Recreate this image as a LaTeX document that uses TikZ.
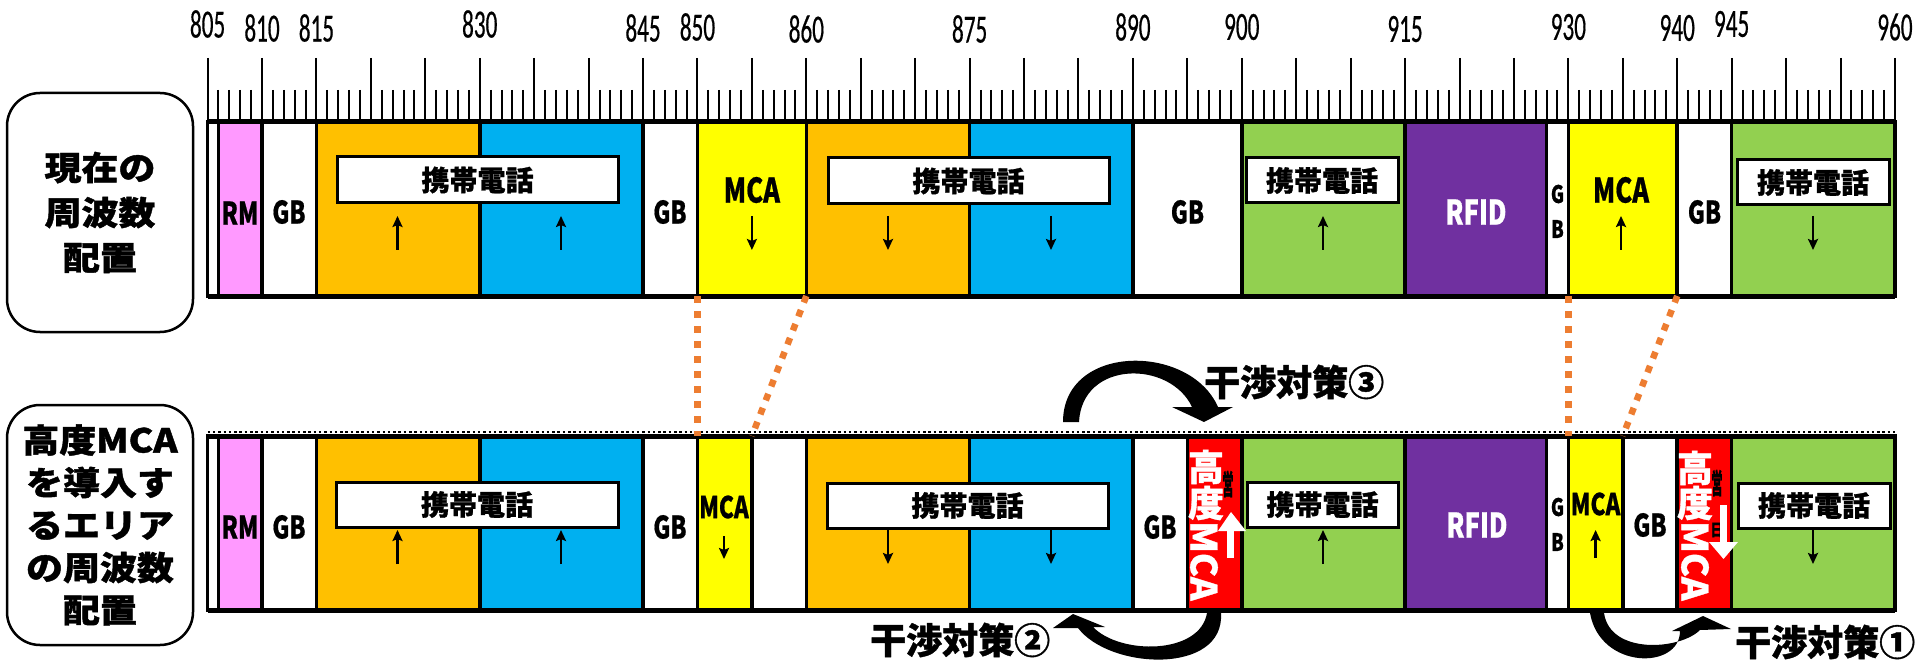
\documentclass[tikz,border=0pt]{standalone}
\usepackage{fontspec}
\usepackage{graphicx}
\usetikzlibrary{arrows.meta}
\setmainfont{Noto Sans CJK JP}
\newfontfamily\jp{Noto Sans CJK JP}[FakeBold=1]
\newfontfamily\jpn{Noto Sans CJK JP}[FakeStretch=0.75,FakeBold=0.6]
\newfontfamily\jpw{Noto Sans CJK JP}[FakeStretch=1.12,FakeBold=1.2]
\newfontfamily\num{Carlito}[FakeStretch=0.58,FakeBold=0.4]
\definecolor{pinkRM}{HTML}{FF99FF}
\definecolor{orangeC}{HTML}{FFC000}
\definecolor{blueC}{HTML}{00B0F0}
\definecolor{yellowC}{HTML}{FFFF00}
\definecolor{greenC}{HTML}{92D050}
\definecolor{purpleC}{HTML}{7030A0}
\definecolor{redC}{HTML}{FF0000}
\definecolor{dotC}{HTML}{ED7D31}
\newcommand\fq[1]{(207.6+(#1-805)*10.886)}
\newcommand\band[5]{\node[band, fill=#5, minimum width={(#3-#2)*10.886pt}] (#1) at ({\fq{#2}},#4) {};}
\begin{document}
\begin{tikzpicture}[x=1pt,y=-1pt,
  band/.style={draw, line width=3.5pt, anchor=north west, minimum height=174pt, inner sep=0pt, outer sep=0pt},
  lab/.style={inner sep=0pt, font=\jpn\bfseries\fontsize{31}{31}\selectfont},
  mca/.style={inner sep=0pt, font=\jpn\bfseries\fontsize{34}{34}\selectfont},
  mcas/.style={inner sep=0pt, font=\jpn\bfseries\fontsize{30}{30}\selectfont},
  gbs/.style={inner sep=0pt, font=\jpn\bfseries\fontsize{24}{24}\selectfont},
  rfid/.style={inner sep=0pt, text=white, font=\jpn\bfseries\fontsize{34}{34}\selectfont},
  scl/.style={inner sep=0pt, font=\num\fontsize{40}{40}\selectfont},
  phone/.style={draw, fill=white, line width=3pt, inner sep=0pt, outer sep=0pt, font=\jp\bfseries\fontsize{28}{28}\selectfont},
  lbox/.style={draw, fill=white, rounded corners=33pt, line width=2.5pt, align=center, inner sep=0pt, minimum width=186pt},
  taisaku/.style={inner sep=0pt, font=\jp\bfseries\fontsize{36}{36}\selectfont},
  rt/.style={inner sep=0pt, text=white, font=\jp\bfseries\fontsize{36}{36}\selectfont},
  hid/.style={inner sep=0pt, font=\jp\bfseries\fontsize{28}{28}\selectfont},
  arr/.style={line width=2.5pt, -{Stealth[length=11pt,width=10pt,inset=2pt]}},
  tick/.style={line width=2pt},
  dotline/.style={draw=dotC, line width=6.5pt, dash pattern=on 7pt off 8pt}
]
\useasboundingbox (0,0) rectangle (1915,663);
\fill[white] (0,0) rectangle (1915,663);

% ---------- scale ----------
\foreach \f in {805,...,960}{
  \pgfmathtruncatemacro\m{mod(\f,5)}
  \ifnum\m=0
    \draw[tick] ({\fq{\f}},58) -- ({\fq{\f}},122);
  \else
    \draw[tick] ({\fq{\f}},90) -- ({\fq{\f}},122);
  \fi
}
\foreach \f/\yy in {805/24,810/28,815/28,830/24,845/28,850/27,860/29,875/29,890/27,900/27,915/29,930/27,940/28,945/24,960/27}{
  \node[scl] (s\f) at ({\fq{\f}},\yy) {\f};
}

% ---------- left boxes ----------
\node[lbox, minimum height=239pt, font=\jpw\bfseries\fontsize{33}{45}\selectfont] (box1) at (100,212.5) {現在の\\周波数\\配置};
\node[lbox, minimum height=240pt, font=\jpw\bfseries\fontsize{33}{42.5}\selectfont] (box2) at (100,525) {高度MCA\\を導入す\\るエリア\\の周波数\\配置};

% ---------- top row ----------
\band{t0}{805}{806}{122}{white}
\band{tRM}{806}{810}{122}{pinkRM}
\band{tGB1}{810}{815}{122}{white}
\band{tO1}{815}{830}{122}{orangeC}
\band{tB1}{830}{845}{122}{blueC}
\band{tGB2}{845}{850}{122}{white}
\band{tMCA1}{850}{860}{122}{yellowC}
\band{tO2}{860}{875}{122}{orangeC}
\band{tB2}{875}{890}{122}{blueC}
\band{tGB3}{890}{900}{122}{white}
\band{tG1}{900}{915}{122}{greenC}
\band{tRF}{915}{928}{122}{purpleC}
\band{tGB4}{928}{930}{122}{white}
\band{tMCA2}{930}{940}{122}{yellowC}
\band{tGB5}{940}{945}{122}{white}
\band{tG2}{945}{960}{122}{greenC}
\draw[line width=5pt] ({\fq{805}},122) -- ({\fq{960}},122);
\draw[line width=5pt] ({\fq{805}},296) -- ({\fq{960}},296);

\node[lab] (tRMl) at (240,213) {RM};
\node[lab] (tGB1l) at (289,212) {GB};
\node[lab] (tGB2l) at (670,212) {GB};
\node[lab] (tGB3l) at (1187.5,212) {GB};
\node[lab] (tGB5l) at (1704.5,212) {GB};
\node[gbs] (tGB4g) at (1557.5,194) {G};
\node[gbs] (tGB4b) at (1557.5,229) {B};
\node[rfid] (tRFl) at (1476,212) {RFID};
\node[mca] (tM1l) at (751.9,190) {MCA};
\node[mca] (tM2l) at (1621,190) {MCA};
\node[phone, minimum width=281pt, minimum height=46pt] (tP1) at (477.5,180) {携帯電話};
\node[phone, minimum width=281pt, minimum height=46pt] (tP2) at (968.5,181) {携帯電話};
\node[phone, minimum width=152pt, minimum height=45pt] (tP3) at (1322,180.5) {携帯電話};
\node[phone, minimum width=152pt, minimum height=45pt] (tP4) at (1813,182.5) {携帯電話};
\foreach \xx in {397.5,561,1323,1621}{ \draw[arr] (\xx,250) -- (\xx,216); }
\foreach \xx in {751.9,888,1051,1813}{ \draw[arr] (\xx,216) -- (\xx,250); }

% ---------- bottom row ----------
\draw[line width=2pt, dash pattern=on 2.5pt off 2.8pt] ({\fq{805}},431.5) -- ({\fq{960}},431.5);
\band{b0}{805}{806}{436}{white}
\band{bRM}{806}{810}{436}{pinkRM}
\band{bGB1}{810}{815}{436}{white}
\band{bO1}{815}{830}{436}{orangeC}
\band{bB1}{830}{845}{436}{blueC}
\band{bGB2}{845}{850}{436}{white}
\band{bMCA1}{850}{855}{436}{yellowC}
\band{bW}{855}{860}{436}{white}
\band{bO2}{860}{875}{436}{orangeC}
\band{bB2}{875}{890}{436}{blueC}
\band{bGB3}{890}{895}{436}{white}
\band{bR1}{895}{900}{436}{redC}
\band{bG1}{900}{915}{436}{greenC}
\band{bRF}{915}{928}{436}{purpleC}
\band{bGB4}{928}{930}{436}{white}
\band{bMCA2}{930}{935}{436}{yellowC}
\band{bGB5}{935}{940}{436}{white}
\band{bR2}{940}{945}{436}{redC}
\band{bG2}{945}{960}{436}{greenC}
\draw[line width=5pt] ({\fq{805}},436) -- ({\fq{960}},436);
\draw[line width=5pt] ({\fq{805}},610) -- ({\fq{960}},610);

\node[lab] (bRMl) at (240,527) {RM};
\node[lab] (bGB1l) at (289,527) {GB};
\node[lab] (bGB2l) at (670,527) {GB};
\node[lab] (bGB3l) at (1160,527) {GB};
\node[lab] (bGB5l) at (1650,525) {GB};
\node[gbs] (bGB4g) at (1557.5,507) {G};
\node[gbs] (bGB4b) at (1557.5,542) {B};
\node[rfid] (bRFl) at (1477,525) {RFID};
\node[mcas] (bM1l) at (724,507) {MCA};
\node[mcas] (bM2l) at (1595.6,504) {MCA};
\node[phone, minimum width=282pt, minimum height=45pt] (bP1) at (477,504.5) {携帯電話};
\node[phone, minimum width=281pt, minimum height=45pt] (bP2) at (967.5,505.5) {携帯電話};
\node[phone, minimum width=151pt, minimum height=45pt] (bP3) at (1322.5,504.5) {携帯電話};
\node[phone, minimum width=152pt, minimum height=45pt] (bP4) at (1814,505.5) {携帯電話};
\foreach \xx in {397.5,561,1323}{ \draw[arr] (\xx,564) -- (\xx,530); }
\draw[arr] (1595.6,558) -- (1595.6,530);
\foreach \xx in {888,1051,1813}{ \draw[arr] (\xx,530) -- (\xx,564); }
\draw[arr] (724,536) -- (724,559);

% red blocks (高度MCA)
\node[hid] (h1) at (1228,484) {\scalebox{0.4}[1]{営}};
\node[hid] (h2) at (1717,483) {\scalebox{0.4}[1]{営}};
\node[hid] (h3) at (1717,530) {\scalebox{0.45}[0.6]{日}};
\node[rt] (r1a) at (1206,467) {高};
\node[rt] (r1b) at (1206,503) {度};
\node[rt, rotate=-90] (r1c) at (1204,561) {MCA};
\fill[white] (1227,528) rectangle (1234,558);
\fill[white] (1218,531) -- (1246,531) -- (1231,512) -- cycle;
\node[rt] (r2a) at (1695,468) {高};
\node[rt] (r2b) at (1695,503) {度};
\node[rt, rotate=-90] (r2c) at (1695,561) {MCA};
\fill[white] (1720,505) rectangle (1727,543);
\fill[white] (1709,542) -- (1738,542) -- (1723.5,559) -- cycle;

% ---------- dotted connectors ----------
\draw[dotline] (tMCA1.south west) -- (bMCA1.north west);
\draw[dotline] (tMCA1.south east) -- (bMCA1.north east);
\draw[dotline] (tMCA2.south west) -- (bMCA2.north west);
\draw[dotline] (tMCA2.south east) -- (bMCA2.north east);

% ---------- interference countermeasure arrows ----------
\fill (1063,422) .. controls (1063,343) and (1190,343) .. (1218,407) -- (1233,407) -- (1204,422) -- (1172,407) -- (1192,407) .. controls (1170,360) and (1082,360) .. (1079,422) -- cycle;
\node[taisaku, anchor=west] (c3) at (1204,382) {干渉対策③};

\fill (1207,613) -- (1221,613) .. controls (1225,675) and (1110,670) .. (1078,628) -- (1053,628) -- (1073,614) -- (1105,627) -- (1093,627) .. controls (1120,655) and (1200,655) .. (1207,613) -- cycle;
\node[taisaku, anchor=west] (c2) at (870,640) {干渉対策②};

\fill (1590,613) .. controls (1600,670) and (1680,670) .. (1680,631) -- (1672,631) -- (1703,616) -- (1731,629) -- (1700,630) .. controls (1680,650) and (1610,655) .. (1604,613) -- cycle;
\node[taisaku, anchor=west] (c1) at (1735,642) {干渉対策①};
\end{tikzpicture}
\end{document}
